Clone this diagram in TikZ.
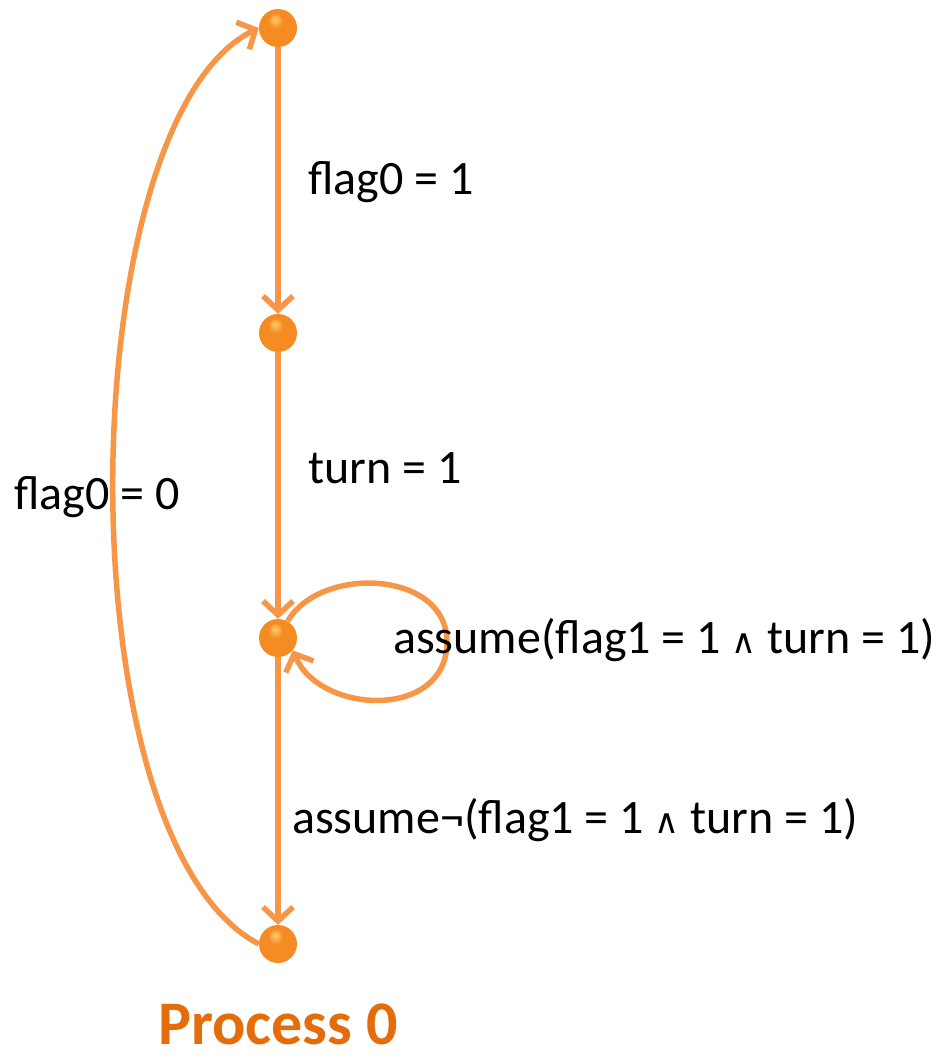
\documentclass[tikz,border=0pt]{standalone}
\usepackage{fontspec}
\setmainfont{Carlito}
\newfontfamily\symfont{DejaVu Sans}
\usetikzlibrary{arrows.meta}
\definecolor{edgeor}{RGB}{247,150,70}
\definecolor{ballor}{RGB}{245,140,35}
\definecolor{ballhi}{RGB}{255,205,110}
\definecolor{balled}{RGB}{190,100,30}
\definecolor{procor}{RGB}{228,108,10}
\pgfdeclareradialshading{orball}{\pgfpoint{-4bp}{12bp}}{color(0bp)=(ballhi); color(10bp)=(ballor); color(36bp)=(ballor); color(46bp)=(balled); color(50bp)=(balled)}
\newcommand{\andsym}{{\symfont\fontsize{34}{40}\selectfont ∧}}
\begin{document}
\begin{tikzpicture}[x=1pt,y=-1pt,
  state/.style={circle,minimum size=38pt,inner sep=0pt,shading=orball},
  edge/.style={draw=edgeor,line width=5.5pt,-{Straight Barb[length=14pt,width=30pt,line width=5.5pt]}},
  lbl/.style={anchor=west,font=\fontsize{48}{56}\selectfont,inner sep=0pt}]
\useasboundingbox (0,0) rectangle (944,1057);
\node[state] (s0) at (278,28) {};
\node[state] (s1) at (278,333) {};
\node[state] (s2) at (278,638) {};
\node[state] (s3) at (278,944) {};
\draw[edge] (s0) -- (s1);
\draw[edge] (s1) -- (s2);
\draw[edge] (s2) -- (s3);
\draw[edge] (s3.west) .. controls (60,840) and (70,120) .. (s0.west);
\draw[edge] (s2.60) .. controls (320,565) and (447,570) .. (447,642) .. controls (447,720) and (320,715) .. (s2.-40);
\node[lbl] (l0) at (308,182) {flag0 = 1};
\node[lbl] (l1) at (308,468) {turn = 1};
\node[lbl] (l2) at (393,640) {assume(flag1 = 1 \andsym{} turn = 1)};
\node[lbl] (l3) at (292,820) {assume¬(flag1 = 1 \andsym{} turn = 1)};
\node[lbl] (l4) at (14,497) {flag0 = 0};
\node[font=\fontsize{62}{70}\selectfont\bfseries,text=procor,inner sep=0pt,anchor=base] (p) at (278,1044) {Process 0};
\end{tikzpicture}
\end{document}
